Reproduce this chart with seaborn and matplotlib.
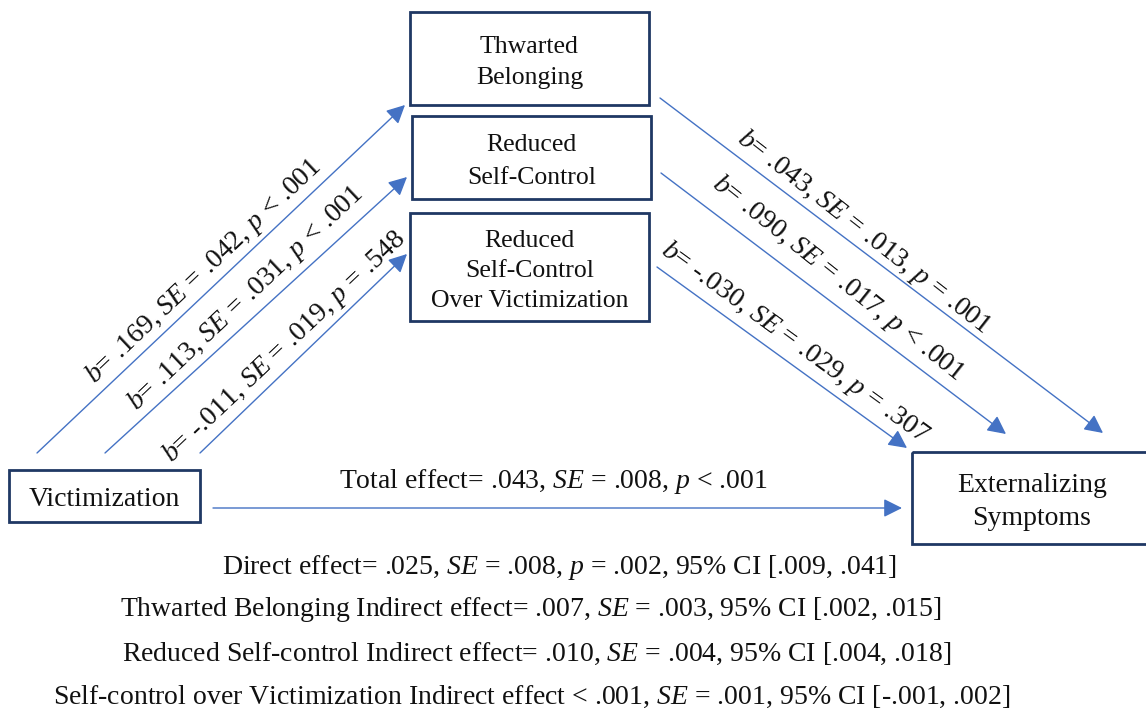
import matplotlib
matplotlib.use("Agg")
import matplotlib.pyplot as plt
from matplotlib.patches import Rectangle
import seaborn as sns

# ==========================
# Data: node names and path estimates
# ==========================
mediators = ["Thwarted\nBelonging",
             "Reduced\nSelf-Control",
             "Reduced\nSelf-Control\nOver Victimization"]
predictor = "Victimization"
outcome = "Externalizing\nSymptoms"

a_paths = [r"$b$= .169, $SE$ = .042, $p$ < .001",
           r"$b$= .113, $SE$ = .031, $p$ < .001",
           r"$b$= -.011, $SE$ = .019, $p$ = .548"]
b_paths = [r"$b$= .043, $SE$ = .013, $p$ = .001",
           r"$b$= .090, $SE$ = .017, $p$ < .001",
           r"$b$= -.030, $SE$ = .029, $p$ = .307"]
total_effect = r"Total effect= .043, $SE$ = .008, $p$ < .001"
summary_lines = [
    r"Direct effect= .025, $SE$ = .008, $p$ = .002, 95% CI [.009, .041]",
    r"Thwarted Belonging Indirect effect= .007, $SE$ = .003, 95% CI [.002, .015]",
    r"Reduced Self-control Indirect effect= .010, $SE$ = .004, 95% CI [.004, .018]",
    r"Self-control over Victimization Indirect effect < .001, $SE$ = .001, 95% CI [-.001, .002]",
]

# ==========================
# Layout (pixel space)
# ==========================
med_boxes = [(410, 12, 239, 93), (412, 116, 239, 83), (410, 213, 239, 108)]
med_spacing = [1.58, 1.62, 1.45]
pred_box = (9, 470, 191, 52)
out_box = (912, 452, 240, 92)

a_arrows = [((37, 453), (405, 105)), ((105, 453), (407, 177)), ((200, 453), (407, 254))]
b_arrows = [((660, 98), (1103, 433)), ((661, 173), (1006, 434)), ((657, 267), (907, 448))]
a_label_pos = [(204, 271, 43.5), (246, 298, 43.5), (284, 347, 43.5)]
b_label_pos = [(864, 232, -38), (838, 278, -38.5), (795, 343, -36)]
summary_pos = [(559, 567), (531, 610), (537, 654), (532, 697)]

sns.set_theme(style="white")
plt.rcParams["font.family"] = ["Liberation Serif", "DejaVu Serif"]
plt.rcParams["mathtext.fontset"] = "custom"
plt.rcParams["mathtext.rm"] = "Liberation Serif"
plt.rcParams["mathtext.it"] = "Liberation Serif:italic"

BOX = "#1f3864"
ARROW = "#4472c4"
INK = "#111111"
FS_BOX = 18.5
FS = 20

fig = plt.figure(figsize=(11.46, 7.13), dpi=100)
ax = fig.add_axes([0, 0, 1, 1])
ax.set_xlim(0, 1146)
ax.set_ylim(713, 0)
ax.axis("off")


def draw_box(rect, label, fs, spacing=1.2, dy=0):
    x, y, w, h = rect
    ax.add_patch(Rectangle((x, y), w, h, fill=False, edgecolor=BOX, lw=2))
    ax.text(x + w / 2, y + h / 2 + dy, label, ha="center", va="center",
            fontsize=fs, linespacing=spacing, color=INK)


def draw_arrow(start, end):
    ax.annotate("", xy=end, xytext=start,
                arrowprops=dict(arrowstyle="-|>,head_length=0.7,head_width=0.35",
                                mutation_scale=16, color=ARROW, lw=1,
                                shrinkA=0, shrinkB=0))


for rect, name, sp in zip(med_boxes, mediators, med_spacing):
    draw_box(rect, name, FS_BOX, sp, dy=4)
draw_box(pred_box, predictor, FS, dy=3)
draw_box(out_box, outcome, FS, 1.45, dy=4)

for (s, e), (tx, ty, rot), lab in zip(a_arrows, a_label_pos, a_paths):
    draw_arrow(s, e)
    ax.text(tx, ty, lab, rotation=rot, rotation_mode="anchor",
            ha="center", va="center", fontsize=FS, color=INK)

for (s, e), (tx, ty, rot), lab in zip(b_arrows, b_label_pos, b_paths):
    draw_arrow(s, e)
    ax.text(tx, ty, lab, rotation=rot, rotation_mode="anchor",
            ha="center", va="center", fontsize=FS, color=INK)

draw_arrow((213, 508), (902, 508))
ax.text(553, 482, total_effect, ha="center", va="center", fontsize=FS, color=INK)

for (x, y), line in zip(summary_pos, summary_lines):
    ax.text(x, y, line, ha="center", va="center", fontsize=FS, color=INK)

fig.savefig("out.png", dpi=100)
